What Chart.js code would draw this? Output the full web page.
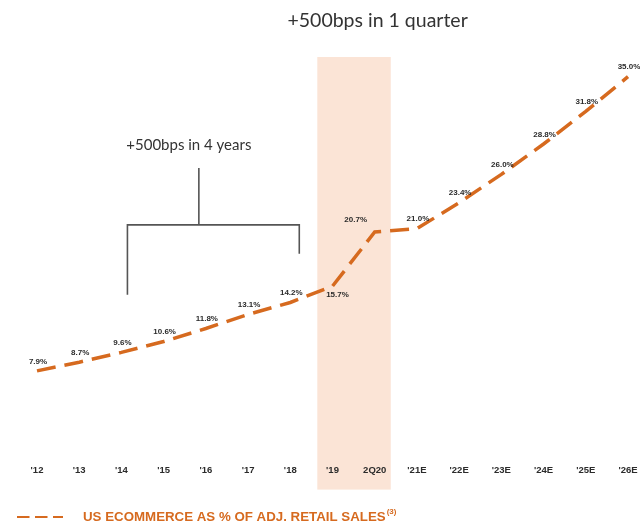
<!DOCTYPE html>
<html>
<head>
<meta charset="utf-8">
<script src="https://cdn.jsdelivr.net/npm/chart.js@4/dist/chart.umd.min.js"></script>
<style>
  html, body { margin: 0; padding: 0; background: #fff; }
  #wrap { width: 640px; height: 532px; position: relative; }
</style>
</head>
<body>
<div id="wrap"><canvas id="c" width="640" height="532"></canvas></div>
<script>
// Periods on the x axis
const periods = ["'12", "'13", "'14", "'15", "'16", "'17", "'18", "'19", "2Q20", "'21E", "'22E", "'23E", "'24E", "'25E", "'26E"];
// US e-commerce share of adjusted retail sales, %
const ecommerceShare = [7.9, 8.7, 9.6, 10.6, 11.8, 13.1, 14.2, 15.7, 20.7, 21.0, 23.4, 26.0, 28.8, 31.8, 35.0];

const seriesName = 'US ECOMMERCE AS % OF ADJ. RETAIL SALES';
const seriesNote = '(3)';
const quarterCallout = '+500bps in 1 quarter';
const yearsCallout = '+500bps in 4 years';

const ORANGE = '#d66a1f';
const BAND = '#fbe4d6';
const INK = '#2b2b2b';

// Shaded band behind the '19 -> 2Q20 jump, running down through the tick labels
const bandPlugin = {
  id: 'band',
  beforeDraw(chart) {
    const { ctx, chartArea, scales: { x } } = chart;
    const step = x.getPixelForValue(1) - x.getPixelForValue(0);
    const x0 = x.getPixelForValue(7) - step * 0.36;
    const x1 = x.getPixelForValue(8) + step * 0.38;
    ctx.save();
    ctx.fillStyle = BAND;
    ctx.fillRect(x0, chartArea.top + 2, x1 - x0, chartArea.bottom - chartArea.top + 31);
    ctx.restore();
  }
};

// Callout texts and the bracket over 2014-2018
const calloutPlugin = {
  id: 'callouts',
  afterDraw(chart) {
    const { ctx, scales: { x, y } } = chart;
    ctx.save();
    ctx.fillStyle = '#333';
    ctx.textAlign = 'center';
    ctx.textBaseline = 'middle';
    ctx.font = '19.5px Lato, "Open Sans", sans-serif';
    const qx = (x.getPixelForValue(7) + x.getPixelForValue(8)) / 2 + 24;
    ctx.fillText(quarterCallout, qx, 21);

    const lx = x.getPixelForValue(2) + 6;
    const rx = x.getPixelForValue(6) + 9;
    const mx = x.getPixelForValue(4) - 7;
    ctx.font = '15px Lato, "Open Sans", sans-serif';
    ctx.fillText(yearsCallout, mx - 10, y.getPixelForValue(28.7));

    ctx.strokeStyle = '#555';
    ctx.lineWidth = 1.6;
    ctx.beginPath();
    ctx.moveTo(mx, y.getPixelForValue(26.6));
    ctx.lineTo(mx, y.getPixelForValue(21.35));
    ctx.moveTo(lx, y.getPixelForValue(14.9));
    ctx.lineTo(lx, y.getPixelForValue(21.35));
    ctx.lineTo(rx, y.getPixelForValue(21.35));
    ctx.lineTo(rx, y.getPixelForValue(18.7));
    ctx.stroke();
    ctx.restore();
  }
};

// Value labels beside each point
const valueLabelPlugin = {
  id: 'valueLabels',
  afterDatasetsDraw(chart) {
    const { ctx } = chart;
    const meta = chart.getDatasetMeta(0);
    const data = chart.data.datasets[0].data;
    ctx.save();
    ctx.fillStyle = INK;
    ctx.font = 'bold 8px "Liberation Sans Narrow", "Liberation Sans", sans-serif';
    ctx.textAlign = 'center';
    ctx.textBaseline = 'middle';
    meta.data.forEach((pt, i) => {
      let dx = 1, dy = -9.5;
      if (i === 7) { dx = 5; dy = 9; }
      if (i === 8) { dx = -19; dy = -12; }
      ctx.fillText(data[i].toFixed(1) + '%', pt.x + dx, pt.y + dy);
    });
    ctx.restore();
  }
};

// Legend row at the bottom
const legendPlugin = {
  id: 'legendRow',
  afterDraw(chart) {
    const { ctx } = chart;
    const yy = 517;
    ctx.save();
    ctx.strokeStyle = ORANGE;
    ctx.lineWidth = 2.2;
    ctx.setLineDash([12.5, 5.5]);
    ctx.beginPath();
    ctx.moveTo(17, yy);
    ctx.lineTo(63, yy);
    ctx.stroke();
    ctx.setLineDash([]);
    ctx.fillStyle = ORANGE;
    ctx.textBaseline = 'middle';
    ctx.textAlign = 'left';
    ctx.font = 'bold 13.3px "Liberation Sans Narrow", "Liberation Sans", sans-serif';
    ctx.fillText(seriesName, 83, yy);
    const w = ctx.measureText(seriesName).width;
    ctx.font = 'bold 8px "Liberation Sans Narrow", "Liberation Sans", sans-serif';
    ctx.fillText(seriesNote, 83 + w + 1, yy - 5);
    ctx.restore();
  }
};

new Chart(document.getElementById('c'), {
  type: 'line',
  data: {
    labels: periods,
    datasets: [{
      label: seriesName,
      data: ecommerceShare,
      borderColor: ORANGE,
      borderWidth: 3.5,
      borderDash: [19, 9],
      borderCapStyle: 'butt',
      tension: 0,
      pointRadius: 0,
      fill: false
    }]
  },
  options: {
    responsive: false,
    animation: false,
    layout: { padding: { left: 37, right: 12, top: 55, bottom: 48 } },
    plugins: { legend: { display: false }, tooltip: { enabled: false } },
    scales: {
      x: {
        offset: false,
        grid: { display: false, drawTicks: false },
        border: { display: false },
        afterFit(scale) { scale.paddingLeft = 0; scale.paddingRight = 0; },
        ticks: {
          color: INK,
          font: { family: '"Liberation Sans", sans-serif', size: 9.5, weight: 'bold' },
          padding: 8,
          maxRotation: 0,
          autoSkip: false
        }
      },
      y: {
        display: false,
        min: 0,
        max: 37
      }
    }
  },
  plugins: [bandPlugin, valueLabelPlugin, calloutPlugin, legendPlugin]
});
</script>
</body>
</html>
